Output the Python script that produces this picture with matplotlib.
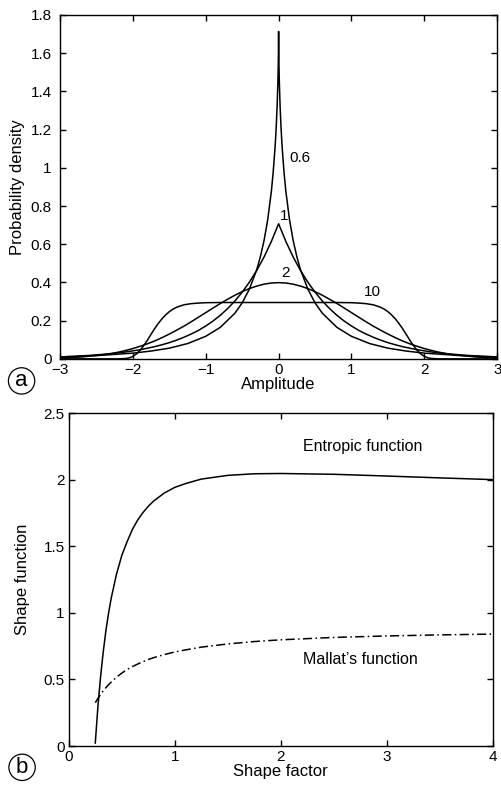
import numpy as np
import matplotlib.pyplot as plt

plt.rcParams['font.family'] = ['Liberation Sans', 'DejaVu Sans']
plt.rcParams['font.size'] = 11

# panel a: densities for shape factors 0.6, 1, 2, 10
amp = np.round(np.linspace(-3, 3, 61), 2)
dens_2 = [0.004, 0.006, 0.008, 0.010, 0.014, 0.018, 0.022, 0.028, 0.035, 0.044,
          0.054, 0.066, 0.079, 0.094, 0.111, 0.130, 0.150, 0.171, 0.194, 0.218,
          0.242, 0.266, 0.290, 0.312, 0.333, 0.352, 0.368, 0.381, 0.391, 0.397,
          0.399,
          0.397, 0.391, 0.381, 0.368, 0.352, 0.333, 0.312, 0.290, 0.266, 0.242,
          0.218, 0.194, 0.171, 0.150, 0.130, 0.111, 0.094, 0.079, 0.066, 0.054,
          0.044, 0.035, 0.028, 0.022, 0.018, 0.014, 0.010, 0.008, 0.006, 0.004]
dens_1 = [0.010, 0.012, 0.013, 0.016, 0.018, 0.021, 0.024, 0.027, 0.032, 0.036,
          0.042, 0.048, 0.056, 0.064, 0.074, 0.085, 0.098, 0.113, 0.130, 0.149,
          0.172, 0.198, 0.228, 0.263, 0.303, 0.349, 0.402, 0.463, 0.533, 0.614,
          0.707,
          0.614, 0.533, 0.463, 0.402, 0.349, 0.303, 0.263, 0.228, 0.198, 0.172,
          0.149, 0.130, 0.113, 0.098, 0.085, 0.074, 0.064, 0.056, 0.048, 0.042,
          0.036, 0.032, 0.027, 0.024, 0.021, 0.018, 0.016, 0.013, 0.012, 0.010]

amp_10 = [-3, -2.4, -2.2, -2.1, -2.05, -2, -1.95, -1.9, -1.85, -1.8, -1.75, -1.7,
          -1.65, -1.6, -1.55, -1.5, -1.45, -1.4, -1.3, -1.2, -1.1, -1.0, -0.8, -0.4,
          0,
          0.4, 0.8, 1.0, 1.1, 1.2, 1.3, 1.4, 1.45, 1.5, 1.55, 1.6, 1.65, 1.7, 1.75,
          1.8, 1.85, 1.9, 1.95, 2, 2.05, 2.1, 2.2, 2.4, 3]
dens_10 = [0, 0, 0.000, 0.002, 0.005, 0.013, 0.026, 0.045, 0.070, 0.098, 0.129,
           0.159, 0.186, 0.210, 0.230, 0.247, 0.260, 0.270, 0.283, 0.289, 0.292,
           0.294, 0.295, 0.295,
           0.295,
           0.295, 0.295, 0.294, 0.292, 0.289, 0.283, 0.270, 0.260, 0.247, 0.230,
           0.210, 0.186, 0.159, 0.129, 0.098, 0.070, 0.045, 0.026, 0.013, 0.005,
           0.002, 0.000, 0, 0]

amp_06 = [-3, -2.5, -2, -1.75, -1.5, -1.25, -1, -0.8, -0.6, -0.5, -0.4, -0.3,
          -0.25, -0.2, -0.15, -0.1, -0.075, -0.05, -0.04, -0.03, -0.02, -0.01,
          -0.005, -0.002, 0,
          0.002, 0.005, 0.01, 0.02, 0.03, 0.04, 0.05, 0.075, 0.1, 0.15, 0.2, 0.25,
          0.3, 0.4, 0.5, 0.6, 0.8, 1, 1.25, 1.5, 1.75, 2, 2.5, 3]
dens_06 = [0.010, 0.017, 0.030, 0.041, 0.056, 0.080, 0.118, 0.165, 0.239, 0.293,
           0.366, 0.467, 0.535, 0.619, 0.727, 0.875, 0.974, 1.100, 1.163, 1.237,
           1.327, 1.448, 1.533, 1.607,
           1.714,
           1.607, 1.533, 1.448, 1.327, 1.237, 1.163, 1.100, 0.974, 0.875, 0.727,
           0.619, 0.535, 0.467, 0.366, 0.293, 0.239, 0.165, 0.118, 0.080, 0.056,
           0.041, 0.030, 0.017, 0.010]

# panel b: shape functions vs shape factor
shape = [0.25, 0.275, 0.3, 0.325, 0.35, 0.375, 0.4, 0.45, 0.5, 0.55, 0.6, 0.65,
         0.7, 0.75, 0.8, 0.9, 1.0, 1.1, 1.25, 1.5, 1.75, 2.0, 2.5, 3.0, 3.5, 4.0]
entropic = [0.023, 0.299, 0.522, 0.707, 0.866, 0.997, 1.110, 1.291, 1.432, 1.535,
            1.627, 1.698, 1.754, 1.801, 1.840, 1.900, 1.943, 1.971, 2.005, 2.033,
            2.045, 2.047, 2.041, 2.028, 2.014, 2.001]
mallat = [0.326, 0.358, 0.388, 0.415, 0.438, 0.461, 0.481, 0.517, 0.548, 0.575,
          0.597, 0.616, 0.634, 0.650, 0.664, 0.687, 0.707, 0.722, 0.743, 0.767,
          0.785, 0.798, 0.816, 0.827, 0.835, 0.841]

fig = plt.figure(figsize=(5.02, 7.87), dpi=100)
ax1 = fig.add_axes([0.1195, 0.544, 0.871, 0.437])
ax2 = fig.add_axes([0.137, 0.052, 0.845, 0.423])

for xs, ys in [(amp_06, dens_06), (amp, dens_1), (amp, dens_2), (amp_10, dens_10)]:
    ax1.plot(xs, ys, color='black', linewidth=1.1)
ax1.set_xlim(-3, 3)
ax1.set_ylim(0, 1.8)
ax1.set_xticks([-3, -2, -1, 0, 1, 2, 3])
ax1.set_yticks([0, 0.2, 0.4, 0.6, 0.8, 1, 1.2, 1.4, 1.6, 1.8])
ax1.set_yticklabels(['0', '0.2', '0.4', '0.6', '0.8', '1', '1.2', '1.4', '1.6', '1.8'])
ax1.set_xlabel('Amplitude', fontsize=12, labelpad=0)
ax1.set_ylabel('Probability density', fontsize=12, labelpad=4)
ax1.text(0.29, 1.05, '0.6', ha='center', va='center', fontsize=11)
ax1.text(0.07, 0.75, '1', ha='center', va='center', fontsize=11)
ax1.text(0.10, 0.45, '2', ha='center', va='center', fontsize=11)
ax1.text(1.29, 0.35, '10', ha='center', va='center', fontsize=11)

ax2.plot(shape, entropic, color='black', linewidth=1.1)
ax2.plot(shape, mallat, color='black', linewidth=1.1, dashes=(6, 2.2, 1, 2.2))
ax2.set_xlim(0, 4)
ax2.set_ylim(0, 2.5)
ax2.set_xticks([0, 1, 2, 3, 4])
ax2.set_yticks([0, 0.5, 1, 1.5, 2, 2.5])
ax2.set_yticklabels(['0', '0.5', '1', '1.5', '2', '2.5'])
ax2.set_xlabel('Shape factor', fontsize=12, labelpad=0)
ax2.set_ylabel('Shape function', fontsize=12, labelpad=10)
ax2.text(2.77, 2.25, 'Entropic function', ha='center', va='center', fontsize=11.5)
ax2.text(2.75, 0.65, 'Mallat\u2019s function', ha='center', va='center', fontsize=11.5)

for ax in (ax1, ax2):
    ax.tick_params(direction='in', top=True, right=True, length=4, width=1,
                   labelsize=11, pad=3)
    for sp in ax.spines.values():
        sp.set_linewidth(1)
# keep the y "0" clear of the x "-3"
ax1.tick_params(axis='y', pad=6)

# circled panel letters
fig.text(0.043, 0.516, 'a', ha='center', va='center', fontsize=16,
         bbox=dict(boxstyle='circle,pad=0.12', fc='white', ec='black', lw=0.9))
fig.text(0.044, 0.025, 'b', ha='center', va='center', fontsize=16,
         bbox=dict(boxstyle='circle,pad=0.12', fc='white', ec='black', lw=0.9))

fig.savefig('out.png', dpi=100)
